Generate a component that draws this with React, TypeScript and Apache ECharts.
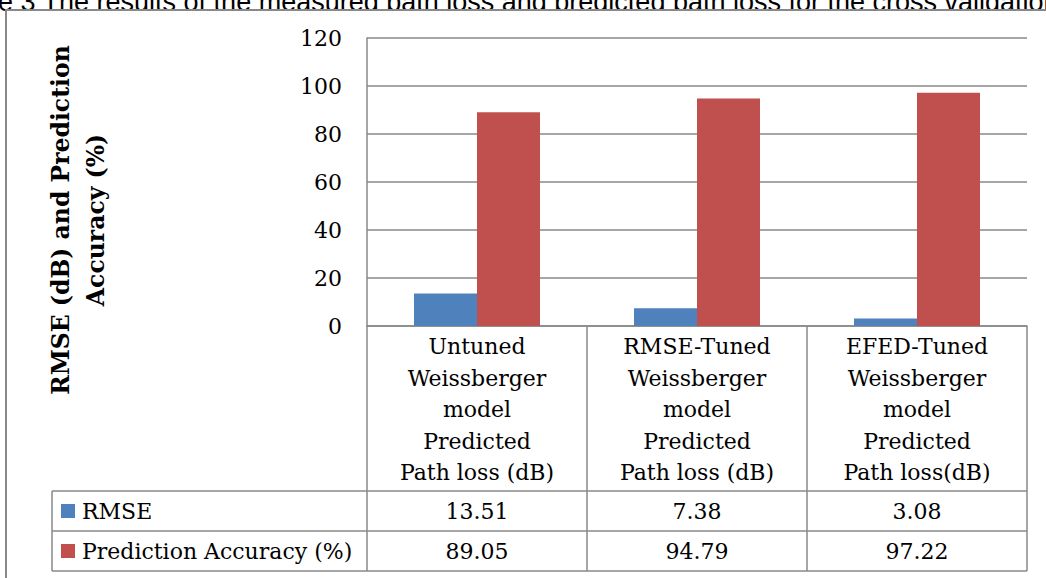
import React, { useEffect, useRef } from "react";
import * as echarts from "echarts";

// Categories shown in the data table header (one column per model)
const categories = [
  "Untuned\nWeissberger\nmodel\nPredicted\nPath loss (dB)",
  "RMSE-Tuned\nWeissberger\nmodel\nPredicted\nPath loss (dB)",
  "EFED-Tuned\nWeissberger\nmodel\nPredicted\nPath loss(dB)",
];
const seriesNames = ["RMSE", "Prediction Accuracy (%)"];
const rmseValues = [13.51, 7.38, 3.08];
const accuracyValues = [89.05, 94.79, 97.22];
const seriesColors = ["#4F81BD", "#C0504D"];
const yMin = 0;
const yMax = 120;
const yStep = 20;

const captionText =
  "e 3 The results of the measured path loss and predicted path loss for the cross validation";
const yTitleLines = ["RMSE (dB) and Prediction", "Accuracy (%)"];

// Layout
const W = 1046;
const H = 578;
const GRID = { left: 367, top: 38, width: 660, height: 288 };
const LINE = "#898989";
const SERIF = '"DejaVu Serif", serif';

export default function App() {
  const ref = useRef<HTMLDivElement>(null);

  useEffect(() => {
    if (!ref.current) return;
    const chart = echarts.init(ref.current, undefined, { renderer: "svg" });

    const axisY = GRID.top + GRID.height; // y pixel of value 0
    const colW = GRID.width / categories.length;
    const headerBottom = 491;
    const rowH = 40;
    const tableLeft = 52;
    const tableRight = GRID.left + GRID.width;
    const tableBottom = headerBottom + rowH * seriesNames.length;
    const seriesData = [rmseValues, accuracyValues];

    const graphics: any[] = [];

    // caption above the frame (partly covered by the frame)
    graphics.push({
      type: "text",
      z: -30,
      x: -2,
      y: 1.5,
      style: {
        text: captionText,
        font: '27px "Liberation Sans", Arial, sans-serif',
        fill: "#000",
        align: "left",
        verticalAlign: "middle",
      },
    });

    // outer frame
    graphics.push({
      type: "rect",
      z: -20,
      shape: { x: 6, y: 10, width: W + 100, height: H + 100 },
      style: { fill: "#fff", stroke: LINE, lineWidth: 2 },
    });

    // rotated value-axis title
    graphics.push({
      type: "text",
      z: 5,
      x: 78,
      y: 220,
      rotation: Math.PI / 2,
      style: {
        text: yTitleLines.join("\n"),
        font: `bold 23.5px ${SERIF}`,
        fill: "#000",
        align: "center",
        verticalAlign: "middle",
        lineHeight: 35,
      },
    });

    // data table: vertical column borders
    for (let i = 0; i <= categories.length; i++) {
      const x = GRID.left + i * colW;
      graphics.push({
        type: "line",
        z: 5,
        shape: { x1: x, y1: axisY, x2: x, y2: tableBottom },
        style: { stroke: LINE, lineWidth: 1.5 },
      });
    }
    // left border of the legend column
    graphics.push({
      type: "line",
      z: 5,
      shape: { x1: tableLeft, y1: headerBottom, x2: tableLeft, y2: tableBottom },
      style: { stroke: LINE, lineWidth: 1.5 },
    });
    // horizontal row borders
    for (let r = 0; r <= seriesNames.length; r++) {
      const y = headerBottom + r * rowH;
      graphics.push({
        type: "line",
        z: 5,
        shape: { x1: tableLeft, y1: y, x2: tableRight, y2: y },
        style: { stroke: LINE, lineWidth: 1.5 },
      });
    }

    // header cells (category names)
    categories.forEach((c, i) => {
      graphics.push({
        type: "text",
        z: 5,
        x: GRID.left + (i + 0.5) * colW,
        y: (axisY + headerBottom) / 2 + 1,
        style: {
          text: c,
          font: `22px ${SERIF}`,
          fill: "#000",
          align: "center",
          verticalAlign: "middle",
          lineHeight: 31.5,
        },
      });
    });

    // legend keys, series names and values
    seriesNames.forEach((name, r) => {
      const cy = headerBottom + (r + 0.5) * rowH;
      graphics.push({
        type: "rect",
        z: 5,
        shape: { x: 61, y: cy - 7, width: 14, height: 14 },
        style: { fill: seriesColors[r] },
      });
      graphics.push({
        type: "text",
        z: 5,
        x: 82,
        y: cy,
        style: {
          text: name,
          font: `22px ${SERIF}`,
          fill: "#000",
          align: "left",
          verticalAlign: "middle",
        },
      });
      seriesData[r].forEach((v, i) => {
        graphics.push({
          type: "text",
          z: 5,
          x: GRID.left + (i + 0.5) * colW,
          y: cy,
          style: {
            text: v.toFixed(2),
            font: `22px ${SERIF}`,
            fill: "#000",
            align: "center",
            verticalAlign: "middle",
          },
        });
      });
    });

    chart.setOption({
      animation: false,
      backgroundColor: "transparent",
      grid: {
        left: GRID.left,
        top: GRID.top,
        width: GRID.width,
        height: GRID.height,
        containLabel: false,
      },
      xAxis: {
        type: "category",
        data: categories,
        axisLine: { show: true, lineStyle: { color: LINE, width: 1.5 } },
        axisTick: { show: false },
        axisLabel: { show: false },
        splitLine: { show: false },
      },
      yAxis: {
        type: "value",
        min: yMin,
        max: yMax,
        interval: yStep,
        axisLine: { show: true, lineStyle: { color: LINE, width: 1.5 } },
        axisTick: { show: false },
        axisLabel: {
          color: "#000",
          fontFamily: SERIF,
          fontSize: 22,
          margin: 25,
        },
        splitLine: { show: true, lineStyle: { color: LINE, width: 1.5 } },
      },
      series: [
        {
          name: seriesNames[0],
          type: "bar",
          data: rmseValues,
          barWidth: 63,
          barGap: "0%",
          itemStyle: { color: seriesColors[0] },
          z: 3,
        },
        {
          name: seriesNames[1],
          type: "bar",
          data: accuracyValues,
          barWidth: 63,
          barGap: "0%",
          itemStyle: { color: seriesColors[1] },
          z: 3,
        },
      ],
      graphic: { elements: graphics },
    });

    return () => chart.dispose();
  }, []);

  return (
    <div
      ref={ref}
      style={{ position: "fixed", left: 0, top: 0, width: W, height: H, background: "#fff" }}
    />
  );
}
